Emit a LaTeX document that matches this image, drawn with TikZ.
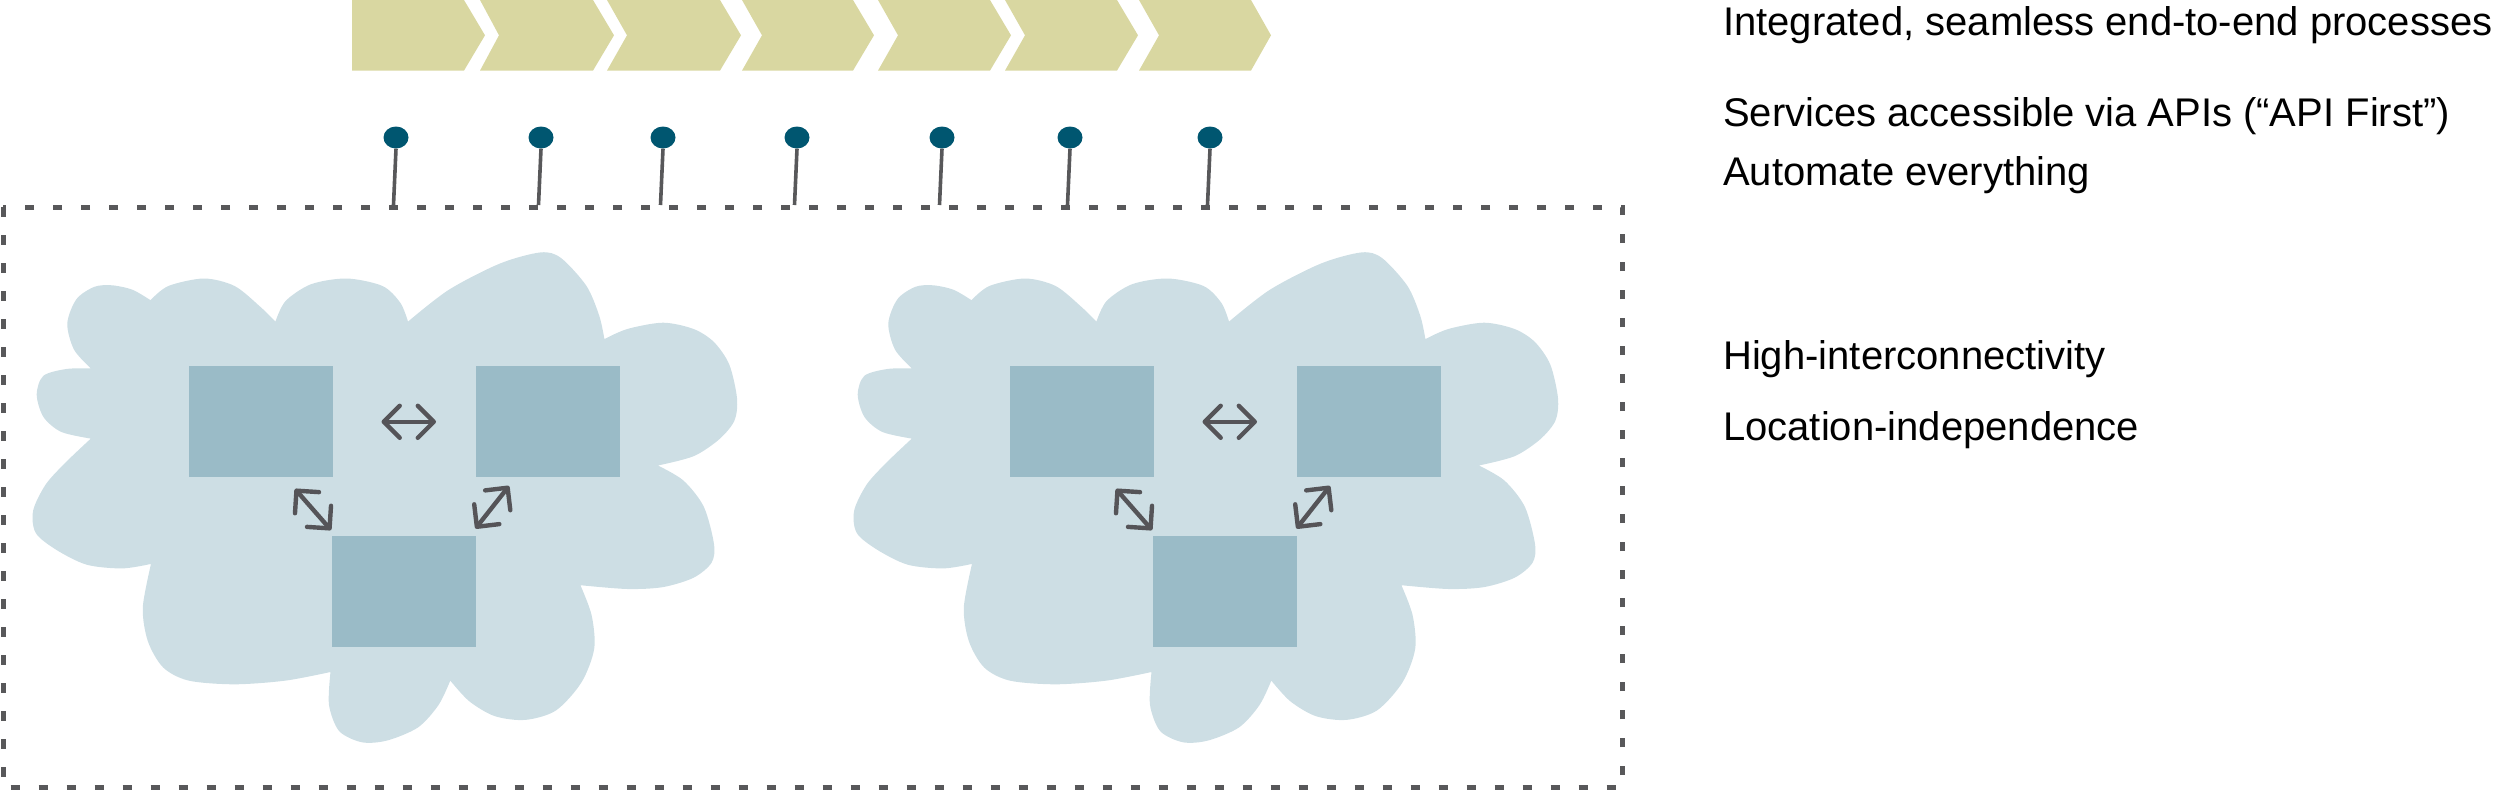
\documentclass[tikz,border=0pt]{standalone}
\usepackage{fontspec}
\setmainfont{Liberation Sans}
\usetikzlibrary{arrows.meta,shapes.geometric}
\definecolor{chev}{RGB}{217,215,161}
\definecolor{pinc}{RGB}{0,86,112}
\definecolor{dgray}{RGB}{88,88,90}
\definecolor{cloudc}{RGB}{205,222,228}
\definecolor{sqc}{RGB}{154,187,199}
\definecolor{arrc}{RGB}{85,84,88}
\tikzset{
  sq/.style={draw=none,fill=sqc,minimum width=144pt,minimum height=111pt,inner sep=0pt},
  dbl/.style={draw=arrc,line width=4.4pt,line cap=round,>={Straight Barb[length=16pt,width=32pt,round]},<->},
  pinhead/.style={ellipse,fill=pinc,minimum width=25pt,minimum height=22pt,inner sep=0pt},
  stem/.style={draw=dgray,line width=3.6pt},
  chevshape/.style={fill=chev},
  lbl/.style={anchor=base west,inner sep=0pt,font=\fontsize{40}{48}\selectfont,text=black},
  frame/.style={draw=dgray,line width=5pt,dash pattern=on 9.5pt off 18.5pt}
}
\newcommand\cloudgroup[2]{%
\begin{scope}[xshift=#2]
\fill[cloudc]
 plot[smooth] coordinates {(150.5,300.2) (168.3,286.0) (204.0,278.5) (234.6,286.0) (260.1,306.6) (275.4,321.6)}
 -- plot[smooth] coordinates {(275.4,321.6) (285.6,301.0) (311.1,284.2) (346.8,278.5) (382.5,286.0) (400.4,302.9) (408.0,321.6)}
 -- plot[smooth] coordinates {(408.0,321.6) (448.8,289.8) (499.8,263.6) (540.6,252.4) (561.0,258.0) (586.5,286.0) (599.3,315.9) (604.4,339.1)}
 -- plot[smooth] coordinates {(604.4,339.1) (627.3,329.0) (663.0,322.7) (693.6,329.0) (714.0,342.1) (729.3,364.6) (737.0,398.2) (734.4,420.7) (719.1,439.4) (693.6,456.2) (657.9,465.5)}
 -- plot[smooth] coordinates {(657.9,465.5) (683.4,480.5) (703.8,506.7) (714.0,544.1) (711.5,562.8) (693.6,577.7) (663.0,587.1) (627.3,589.0) (580.4,585.2)}
 -- plot[smooth] coordinates {(580.4,585.2) (591.6,615.1) (594.2,648.8) (581.4,682.5) (555.9,710.5) (525.3,719.9) (494.7,716.1) (469.2,701.2) (450.3,680.6)}
 -- plot[smooth] coordinates {(450.3,680.6) (438.6,704.9) (418.2,727.3) (387.6,740.4) (362.1,742.3) (339.2,731.1) (329.0,704.9) (330.5,672.0)}
 -- plot[smooth] coordinates {(330.5,672.0) (285.6,680.6) (234.6,684.3) (188.7,680.6) (163.2,667.5) (147.9,641.3) (142.8,607.7) (151.0,563.9)}
 -- plot[smooth] coordinates {(151.0,563.9) (122.4,568.4) (86.7,564.7) (56.1,549.7) (35.7,532.9) (33.2,510.4) (45.9,484.2) (66.3,461.8) (90.8,438.6)}
 -- plot[smooth] coordinates {(90.8,438.6) (61.2,431.9) (43.4,416.9) (36.7,394.5) (43.4,375.8) (66.3,369.0) (90.8,368.3)}
 -- plot[smooth] coordinates {(90.8,368.3) (74.0,349.6) (67.3,323.4) (76.5,299.1) (94.4,286.8) (112.2,285.3) (132.6,289.8) (150.5,300.2)}
 -- cycle;
\node[sq] (#1tl) at (260.6,421.4) {};
\node[sq] (#1tr) at (547.7,421.4) {};
\node[sq] (#1b) at (404.3,591.7) {};
\coordinate (#1ha) at (381.5,421.8);
\coordinate (#1hb) at (436,421.8);
\coordinate (#1la) at (295,489);
\coordinate (#1lb) at (331,530);
\coordinate (#1ra) at (475.5,528.5);
\coordinate (#1rb) at (509,486);
\draw[dbl] (#1ha) -- (#1hb);
\draw[dbl] (#1la) -- (#1lb);
\draw[dbl] (#1ra) -- (#1rb);
\end{scope}}
\begin{document}
\begin{tikzpicture}[x=1pt,y=-1pt]
\useasboundingbox (0,0) rectangle (2500,790);
% process chevrons
\fill[chevshape] (352,0) -- (464,0) -- (485,35.3) -- (464,70.6) -- (352,70.6) -- cycle;
\fill[chevshape] (480,0) -- (593,0) -- (614,35.3) -- (593,70.6) -- (480,70.6) -- (499,35.3) -- cycle;
\fill[chevshape] (607,0) -- (720,0) -- (741,35.3) -- (720,70.6) -- (607,70.6) -- (627,35.3) -- cycle;
\fill[chevshape] (742,0) -- (853,0) -- (874,35.3) -- (853,70.6) -- (742,70.6) -- (762,35.3) -- cycle;
\fill[chevshape] (878,0) -- (990,0) -- (1011,35.3) -- (990,70.6) -- (878,70.6) -- (898,35.3) -- cycle;
\fill[chevshape] (1005,0) -- (1117,0) -- (1138,35.3) -- (1117,70.6) -- (1005,70.6) -- (1025,35.3) -- cycle;
\fill[chevshape] (1139,0) -- (1251,0) -- (1271,35.3) -- (1251,70.6) -- (1139,70.6) -- (1159,35.3) -- cycle;
% clouds
\cloudgroup{a}{0}
\cloudgroup{b}{821}
% dashed frame
\draw[frame] (3,207) rectangle (1622,787.5);
% pins
\foreach \i/\x in {1/396,2/541,3/663,4/797,5/942,6/1070,7/1210}{
  \node[pinhead] (p\i) at (\x,137.5) {};
  \coordinate (s\i) at ({\x-2.5},205);
  \draw[stem] (p\i.south) -- (s\i);
}
% labels
\node[lbl] (t1) at (1723,35) {Integrated, seamless end-to-end processes};
\node[lbl] (t2) at (1723,126) {Services accessible via APIs (“API First”)};
\node[lbl] (t3) at (1723,185) {Automate everything};
\node[lbl] (t4) at (1723,369) {High-interconnectivity};
\node[lbl] (t5) at (1723,440) {Location-independence};
\end{tikzpicture}
\end{document}
